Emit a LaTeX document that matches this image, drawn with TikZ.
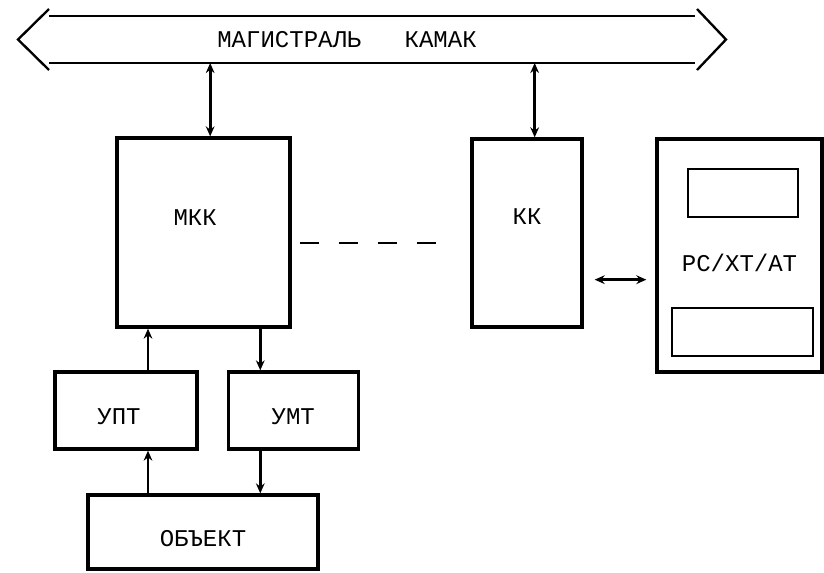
\documentclass[tikz,border=0pt]{standalone}
\usepackage{fontspec}
\setmonofont{Liberation Mono}
\usetikzlibrary{positioning,arrows.meta}

\begin{document}
\begin{tikzpicture}[every node/.style={font=\ttfamily\fontsize{20.5}{24}\selectfont},
    blk/.style={draw,line width=2.8pt,inner sep=0pt},
    scr/.style={draw,line width=1.8pt,inner sep=0pt},
    arr/.style={-{Stealth[length=3mm,width=2.6mm]},line width=2.4pt},
    dbl/.style={{Stealth[length=3mm,width=2.6mm]}-{Stealth[length=3mm,width=2.6mm]},line width=2.4pt}]
        \useasboundingbox (0,0) rectangle (24.72,-17.16);
        % magistral
        \node[inner sep=0pt,outer sep=0pt,minimum width=19.38cm,minimum height=1.41cm] (bus) at (11.16,-1.185) {};
        \node (buslbl) at (10.41,-1.2) {МАГИСТРАЛЬ\ \ \ КАМАК};
        \draw[line width=1.8pt] (bus.north west) -- (bus.north east);
        \draw[line width=1.8pt] (bus.south west) -- (bus.south east);
        \draw[line width=2pt] ([yshift=2.1mm]bus.north west) -- ([xshift=-9.3mm]bus.west) -- ([yshift=-2.1mm]bus.south west);
        \draw[line width=2pt] ([xshift=0.6mm,yshift=2.1mm]bus.north east) -- ([xshift=9.3mm]bus.east) -- ([xshift=0.6mm,yshift=-2.1mm]bus.south east);
        % blocks
        \node[blk,minimum width=5.19cm,minimum height=5.67cm,label={[xshift=-2.5mm,yshift=4.6mm]center:МКК}] (mkk) at (6.105,-6.975) {};
        \node[blk,minimum width=3.3cm,minimum height=5.64cm,label={[yshift=4.8mm]center:КК}] (kk) at (15.81,-6.99) {};
        \node[blk,minimum width=4.95cm,minimum height=6.99cm,label={[yshift=-2.2mm]center:PC/XT/AT}] (pc) at (22.185,-7.665) {};
        \node[scr,minimum width=3.3cm,minimum height=1.44cm] (scrtop) at (22.29,-5.79) {};
        \node[scr,minimum width=4.23cm,minimum height=1.44cm] (scrbot) at (22.275,-9.96) {};
        \node[blk,minimum width=4.26cm,minimum height=2.31cm,label={[xshift=-2.1mm,yshift=-2mm]center:УПТ}] (upt) at (3.78,-12.315) {};
        \node[blk,minimum width=3.9cm,minimum height=2.31cm,right=0.84cm of upt,label={[yshift=-2mm]center:УМТ}] (umt) {};
        \node[blk,minimum width=6.9cm,minimum height=2.22cm,label={[yshift=-2mm]center:ОБЪЕКТ}] (obj) at (6.09,-15.96) {};
        % links
        \draw[dbl] ([xshift=2mm]mkk.north) -- ([xshift=2mm]mkk.north |- bus.south);
        \draw[dbl] ([xshift=2.3mm]kk.north) -- ([xshift=2.3mm]kk.north |- bus.south);
        \draw[line width=1.8pt,dash pattern=on 5.7mm off 6mm,shorten <=2.4mm,shorten >=10.2mm] ([yshift=-3.2mm]mkk.east) -- ([yshift=-3.2mm]mkk.east -| kk.west);
        \draw[dbl,shorten <=3.3mm,shorten >=2.7mm] ([yshift=-14mm]kk.east) -- ([yshift=-14mm]kk.east -| pc.west);
        \draw[arr] ([xshift=6.6mm]upt.north) -- ([xshift=6.6mm]upt.north |- mkk.south);
        \draw[arr] ([xshift=-9.9mm]umt.north |- mkk.south) -- ([xshift=-9.9mm]umt.north);
        \draw[arr] ([xshift=6.6mm]upt.south |- obj.north) -- ([xshift=6.6mm]upt.south);
        \draw[arr] ([xshift=-9.9mm]umt.south) -- ([xshift=-9.9mm]umt.south |- obj.north);
\end{tikzpicture}
\end{document}
